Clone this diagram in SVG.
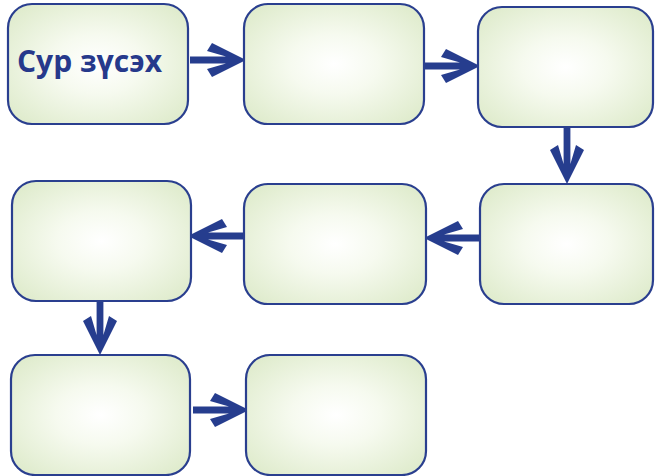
<svg xmlns="http://www.w3.org/2000/svg" width="655" height="476" viewBox="0 0 655 476">
<defs>
<radialGradient id="g" cx="50%" cy="50%" r="62%">
<stop offset="0" stop-color="#ffffff"/>
<stop offset="0.4" stop-color="#f6faef"/>
<stop offset="1" stop-color="#e0ecce"/>
</radialGradient>
<path id="arr" d="M0,0 L-34,-17 L-39,-9 L-20,-3.4 L-56,-3.4 L-56,3.4 L-20,3.4 L-39,9 L-34,17 Z"/>
</defs>
<style>
.box{fill:url(#g);stroke:#2a3f8f;stroke-width:2.2}
.a{fill:#263d8e}
.t{font-family:"Open Sans","Noto Sans",sans-serif;font-weight:700;font-size:30px;fill:#26398b}
</style>
<rect width="655" height="476" fill="#ffffff"/>
<g id="connectors">
<use href="#arr" class="a" transform="translate(246,60)"/>
<use href="#arr" class="a" transform="translate(480,66)"/>
<use href="#arr" class="a" transform="translate(567,184) rotate(90)"/>
<use href="#arr" class="a" transform="translate(424,238) rotate(180)"/>
<use href="#arr" class="a" transform="translate(188,236) rotate(180)"/>
<use href="#arr" class="a" transform="translate(100,355) rotate(90)"/>
<use href="#arr" class="a" transform="translate(249,410)"/>
</g>
<g id="n1"><rect class="box" x="8" y="4" width="180" height="120" rx="24"/><text class="t" x="17" y="72">Сур зүсэх</text></g>
<g id="n2"><rect class="box" x="244" y="4" width="180" height="120" rx="24"/></g>
<g id="n3"><rect class="box" x="478" y="7" width="175" height="120" rx="24"/></g>
<g id="n4"><rect class="box" x="480" y="184" width="173" height="120" rx="24"/></g>
<g id="n5"><rect class="box" x="244" y="184" width="182" height="120" rx="24"/></g>
<g id="n6"><rect class="box" x="12" y="181" width="179" height="120" rx="24"/></g>
<g id="n7"><rect class="box" x="11" y="355" width="179" height="120" rx="24"/></g>
<g id="n8"><rect class="box" x="246" y="355" width="180" height="120" rx="24"/></g>
</svg>
